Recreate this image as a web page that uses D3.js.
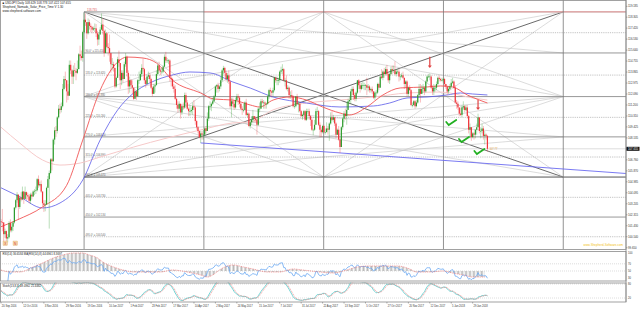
<!DOCTYPE html>
<html><head><meta charset="utf-8">
<script src="https://cdn.jsdelivr.net/npm/d3@7"></script>
<style>body{margin:0;background:#fff}svg{display:block;font-family:"Liberation Sans",Arial,sans-serif}</style>
</head><body><svg id="c" width="640" height="309"></svg>
<script>
// ---------- DATA ----------
const firstOpen = 101.80;
// daily closes, 20 Sep 2016 .. 13 Feb 2018
const closes = [
101.72,101.70,100.75,101.00,100.40,100.50,101.65,101.05,101.35,
101.70,102.90,103.50,103.95,102.95,103.70,103.55,104.20,103.60,104.15,103.90,103.80,103.45,103.95,103.80,104.20,104.25,104.30,105.20,104.70,104.80,
104.20,103.25,103.10,103.15,104.50,105.20,105.70,106.80,106.65,108.40,109.15,109.10,110.20,110.90,110.80,111.10,112.50,113.30,113.20,112.30,111.95,114.45,
114.00,113.50,114.00,113.95,113.80,114.10,115.30,115.15,115.00,117.10,118.10,117.90,117.00,117.90,117.60,117.50,117.30,117.40,117.40,117.00,116.50,116.90,
117.30,117.70,117.20,115.40,117.00,115.90,115.80,115.40,114.50,114.50,114.20,112.70,113.40,114.90,114.60,113.20,113.80,113.30,114.50,115.10,113.80,112.70,
113.20,112.80,112.60,111.70,112.30,111.90,113.20,113.20,113.70,114.20,114.10,113.20,112.90,113.50,113.60,113.30,112.60,112.10,112.70,112.80,
113.70,114.40,114.00,113.90,113.90,114.30,115.10,114.80,114.80,114.80,113.40,113.30,112.70,112.50,111.70,111.20,110.90,111.30,110.60,111.10,111.00,112.00,111.40,
110.90,110.70,110.70,110.80,111.10,111.00,109.90,109.40,109.10,108.60,108.90,108.80,108.80,109.30,109.10,110.10,111.10,111.10,111.30,111.50,
111.90,112.70,112.80,112.50,112.70,113.20,114.00,114.20,113.80,113.30,113.60,113.10,111.10,111.50,111.30,111.00,111.60,111.90,111.80,111.30,110.90,110.80,110.80,
111.40,110.40,110.50,109.50,109.80,110.00,110.30,110.10,110.00,109.60,110.90,110.90,111.50,111.40,111.40,111.30,111.30,111.90,112.40,112.30,112.20,112.40,
113.40,113.20,113.20,113.20,113.90,114.00,114.10,113.20,113.20,112.50,112.60,112.00,112.00,111.90,111.10,111.10,111.90,111.30,111.30,110.70,110.30,
110.40,110.70,110.00,110.70,110.70,110.30,110.00,109.20,109.20,109.60,110.70,110.70,109.60,109.20,109.00,109.50,109.00,109.00,109.30,109.20,109.70,110.20,110.00,
110.20,109.70,108.80,109.20,108.40,107.80,109.40,110.10,110.50,110.30,110.80,111.50,111.60,112.30,112.50,112.00,111.70,112.20,113.20,112.80,112.50,
112.80,112.80,112.80,112.80,112.60,112.70,112.40,112.50,112.30,111.80,112.20,112.20,112.90,112.60,113.50,113.40,113.90,113.70,114.10,113.70,113.20,113.70,
114.10,114.00,114.00,113.70,113.90,113.90,113.50,113.50,113.60,113.40,112.90,113.10,112.10,112.60,112.40,111.20,111.20,111.50,111.10,111.40,112.00,112.50,
112.10,112.50,112.60,112.30,113.10,113.50,113.50,113.50,112.60,112.30,112.60,112.60,112.90,113.40,113.30,113.20,113.20,113.30,112.90,112.70,
112.30,112.50,112.70,113.00,113.10,112.60,111.40,111.30,111.00,110.50,110.40,111.00,111.10,110.80,111.00,110.30,109.20,109.40,108.60,108.90,108.80,109.20,
109.40,110.20,109.10,109.10,109.30,108.70,108.80,108.70,107.655];
const highs = [
101.98,102.79,101.70,101.20,101.05,100.75,101.80,101.95,101.65,
101.80,102.95,103.60,104.15,103.95,103.85,104.15,104.60,104.25,104.60,104.20,104.10,104.00,104.10,104.10,104.30,104.40,104.60,105.30,105.50,105.00,
105.10,104.20,103.50,103.50,104.60,105.45,105.90,106.90,106.90,108.50,109.40,109.50,110.30,111.20,111.30,111.40,112.90,113.55,113.90,113.20,112.90,114.80,
114.80,114.10,114.40,114.60,114.20,114.80,115.40,116.00,115.60,117.20,118.66,118.60,117.80,118.20,118.10,117.80,117.60,117.55,117.80,117.75,117.20,117.10,
117.50,118.60,118.20,117.30,117.30,117.10,116.20,116.90,115.40,115.00,114.70,114.20,113.50,115.10,115.60,114.50,114.00,114.00,114.70,115.40,115.20,114.00,
113.50,113.30,113.20,112.60,112.50,112.40,113.30,113.90,114.00,114.50,114.95,114.20,113.40,113.60,113.90,113.80,113.40,112.70,112.90,112.90,
114.00,114.50,114.70,114.20,114.20,114.40,115.30,115.50,115.00,114.90,114.90,113.60,113.40,112.90,112.80,111.80,111.50,111.50,111.20,111.20,111.40,112.20,112.20,
111.60,111.00,111.20,111.00,111.40,111.60,111.10,110.00,109.50,109.10,109.10,109.10,109.20,109.40,109.50,110.60,111.20,111.50,111.40,111.80,
112.00,112.80,112.90,113.00,112.80,113.50,114.10,114.37,114.30,114.00,113.80,114.00,113.20,111.80,111.80,111.60,111.80,112.10,112.10,111.90,111.40,111.10,111.30,
111.50,111.70,110.60,110.60,110.00,110.30,110.80,110.30,110.30,110.20,111.00,111.40,111.70,111.70,111.60,111.50,111.40,112.00,112.50,112.60,112.40,112.60,
113.50,113.50,113.50,113.40,114.00,114.30,114.50,114.20,113.40,113.60,112.80,112.70,112.30,112.40,112.00,111.50,111.90,112.10,111.50,111.40,110.80,
110.50,110.80,110.80,110.90,110.90,110.90,110.40,110.10,109.30,110.00,110.90,111.05,110.80,109.80,109.40,109.60,109.60,109.30,109.80,109.50,109.80,110.60,110.70,
110.40,110.00,109.80,109.30,109.50,108.50,109.50,110.20,110.70,110.90,111.40,111.70,111.90,112.50,112.70,112.70,112.20,112.30,113.20,113.30,113.00,
113.00,113.10,113.00,112.90,113.40,112.90,112.80,112.60,112.70,112.30,112.30,112.40,113.00,113.00,113.60,114.10,114.00,114.20,114.30,114.45,113.80,113.80,
114.30,114.40,114.40,114.73,114.10,114.10,114.10,113.70,113.80,113.90,113.40,113.20,113.20,112.70,112.80,112.50,111.40,111.60,111.60,111.60,112.10,112.90,
112.90,112.80,112.90,112.70,113.20,113.60,113.70,113.75,113.60,112.80,112.90,112.80,113.10,113.50,113.60,113.40,113.40,113.40,113.40,112.90,
112.70,112.70,112.90,113.30,113.40,113.20,112.80,111.60,111.50,111.00,111.00,111.20,111.50,111.20,111.20,111.20,110.40,109.70,109.40,109.00,109.00,109.20,
109.70,110.50,110.20,109.40,109.70,109.50,109.10,108.90,108.778];
const lows = [
101.45,100.98,100.10,100.45,100.15,100.08,100.40,100.90,100.90,
101.00,101.60,102.75,103.30,101.90,102.80,103.40,103.50,103.20,103.60,103.50,103.55,103.25,103.20,103.55,103.75,103.90,104.00,104.20,104.50,104.60,
104.10,103.00,102.55,102.60,103.60,104.50,101.20,105.60,105.90,106.60,108.00,108.60,108.90,110.10,110.50,110.60,111.00,112.40,112.60,111.40,111.60,112.00,
113.70,112.90,112.90,113.50,113.20,113.70,114.10,114.80,114.80,114.70,117.00,117.60,116.55,116.90,117.30,117.10,117.00,117.20,117.10,116.70,116.00,116.05,
116.90,117.25,116.90,115.10,115.40,115.80,115.20,114.70,113.80,114.00,113.90,112.55,112.60,113.40,114.30,112.50,112.80,113.00,113.30,114.30,113.50,112.10,
112.20,112.50,112.10,111.60,111.80,111.60,112.00,112.90,113.20,113.50,113.90,112.90,112.60,112.90,113.30,113.00,112.50,111.90,112.10,112.20,
112.80,113.60,113.80,113.60,113.70,113.80,114.30,114.60,114.60,114.50,113.10,112.70,112.50,112.20,111.60,110.90,110.60,110.70,110.10,110.40,110.80,110.90,111.10,
110.80,110.30,110.30,110.50,110.40,110.80,109.60,109.20,108.90,108.50,108.13,108.40,108.40,108.70,108.90,109.60,109.90,110.80,110.70,111.20,
111.40,111.80,112.20,112.20,112.30,112.50,113.10,113.70,113.50,113.10,113.00,112.90,110.90,110.20,111.00,110.80,110.90,111.40,111.20,111.00,110.80,110.40,110.60,
110.80,110.30,110.20,109.40,109.30,109.60,109.80,109.80,109.80,108.80,109.50,110.60,110.90,111.30,110.90,110.90,110.90,111.20,111.70,111.90,111.80,111.90,
112.30,113.00,112.80,112.80,113.00,113.70,113.70,113.10,112.70,112.40,112.30,111.70,111.70,111.60,111.00,110.90,111.00,111.20,110.60,110.60,110.20,
110.00,110.20,109.90,109.90,110.50,110.00,109.50,109.10,108.75,109.10,109.60,110.40,109.50,108.60,108.60,108.90,108.90,108.80,109.00,108.80,108.30,109.60,109.90,
109.80,109.50,108.50,108.80,108.30,107.32,108.20,109.20,109.80,110.00,109.60,110.80,111.40,111.30,112.00,111.60,111.50,111.50,112.10,112.50,112.20,
112.40,112.50,112.40,112.40,112.00,112.30,112.20,112.20,112.10,111.70,111.60,111.90,112.10,112.40,112.60,113.30,113.20,113.40,113.60,113.60,113.00,112.90,
113.60,113.70,113.80,113.60,113.50,113.70,113.10,113.20,113.40,113.30,112.50,112.60,111.90,111.90,112.30,111.10,111.00,111.10,110.90,111.00,111.30,111.90,
111.40,112.20,112.20,112.00,112.20,113.00,113.40,113.20,112.50,112.00,112.00,112.30,112.40,112.80,113.10,113.10,113.10,113.00,112.70,112.50,
112.00,112.10,112.40,112.60,112.90,112.50,111.30,110.90,110.80,110.30,110.30,110.20,110.80,110.60,110.70,110.10,108.90,108.50,108.30,108.50,108.40,108.50,
108.80,109.40,108.90,108.50,108.90,108.40,108.00,108.40,107.422];

const dateLabels = ["20 Sep 2016","12 Oct 2016","3 Nov 2016","29 Nov 2016","19 Dec 2016","10 Jan 2017","1 Feb 2017","23 Feb 2017","17 Mar 2017","10 Apr 2017","2 May 2017","24 May 2017","15 Jun 2017","7 Jul 2017","31 Jul 2017","22 Aug 2017","13 Sep 2017","5 Oct 2017","27 Oct 2017","20 Nov 2017","12 Dec 2017","5 Jan 2018","29 Jan 2018"];
const dateLabelEvery = 16;
const priceTicks = [99.650,100.540,101.430,102.315,103.205,104.095,104.985,105.870,106.760,107.645,108.535,109.425,110.310,111.200,112.090,112.975,113.865,114.755,115.640,116.530,117.420,118.305,119.185];

// Gann price/time box
const gannLevels = [118.735,117.050,115.410,113.620,111.880,110.200,108.620,106.990,105.370,103.730,102.134,100.540];
const gannStartBar = 62, gannUnitBars = 89.4;
const gannFans = [ // [t1,k1,t2,k2,dark]
 [0,0,4,8,1],[0,8,4,0,1],
 [0,0,4,4,0],[0,8,4,4,0],[0,4,4,0,0],[0,4,4,8,0],
 [2,0,0,8,0],[2,0,4,8,0],[2,8,0,0,0],[2,8,4,0,0],
 [2,0,0,4,0],[2,0,4,4,0],[2,8,0,4,0],[2,8,4,4,0],
 [0,4,4,6,0],[4,4,0,6,0],
 [0,8,4,6,0],[0,0,4,2,0]];

// moving averages: [bar, price]
const maRed = [[0,101.35],[12,101.9],[31,102.95],[49,104.7],[61,108.36],[74,112.4],[87,114.67],[94,115.08],[106,115.0],[116,114.6],[128,113.2],[149,112.17],[159,111.68],[173,111.6],[186,111.2],[193,111.04],[203,111.6],[216,111.85],[228,111.6],[240,111.04],[253,110.55],[260,110.39],[273,111.04],[285,112.01],[298,112.58],[318,112.66],[328,112.74],[337,112.66],[348,112.01],[357,111.6],[363,111.36]];
const maBlue = [[0,104.5],[14,103.77],[31,102.87],[44,103.27],[61,105.13],[74,108.37],[87,110.79],[99,112.17],[111,112.98],[128,113.63],[141,113.87],[156,113.79],[173,113.06],[186,112.57],[203,111.85],[228,111.36],[253,111.04],[278,111.12],[290,111.36],[303,111.77],[318,111.85],[333,112.01],[343,112.17],[352,112.09],[363,112.01]];
const maPink = [[0,109.4],[14,108.12],[31,106.75],[44,106.34],[59,106.5],[74,106.99],[99,107.8],[124,108.53],[149,109.18],[173,109.75],[186,109.83],[203,110.8],[228,111.36],[253,111.6],[278,111.85],[303,112.17],[328,112.25],[352,111.77],[363,111.6]];
// trend line through two lows
const trendPts = [[149,108.13],[253,107.32]];
// RSI signal (red dotted)
const rsiSig = [[0,52.8],[7,47.2],[14,47.2],[24,61.1],[31,72.2],[39,86.1],[46,94.4],[54,100],[61,100],[66,94.4],[72,86.1],[76,75],[84,61.1],[91,52.8],[99,47.2],[109,47.2],[119,47.2],[128,52.8],[139,47.2],[149,38.9],[154,33.3],[158,38.9],[163,52.8],[169,63.9],[173,66.7],[181,61.1],[188,55.6],[199,47.2],[208,47.2],[218,55.6],[225,52.8],[238,47.2],[248,44.4],[258,52.8],[266,61.1],[275,63.9],[285,63.9],[296,63.9],[305,55.6],[310,47.2],[320,47.2],[330,50],[337,44.4],[345,38.9],[352,33.3],[361,33.3]];
// annotations
const downArrows = [[320,115.1,114.2],[356,111.6,110.8]];
const checks = [[336,109.74],[345.5,108.37],[357,107.4]];

// ---------- LAYOUT ----------
const svg = d3.select("#c");
const W = 640, plotR = 626;
const mainT = 0, mainB = 249.5, rsiT = 251, rsiB = 281, stT = 282.5, stB = 302;
const X0 = 1, STEP = 1.34;
const x = d3.scaleLinear().domain([0,1]).range([X0, X0+STEP]);
const y = d3.scaleLinear().domain([99.65,119.185]).range([247.75,6.3]);
const yR = d3.scaleLinear().domain([0,100]).range([289,253]);
const yS = d3.scaleLinear().domain([0,100]).range([302.7,279.3]);

const defs = svg.append("defs");
function clip(id,x0,y0,w,h){defs.append("clipPath").attr("id",id).append("rect").attr("x",x0).attr("y",y0).attr("width",w).attr("height",h);}
clip("cm",0,mainT,plotR,mainB-mainT);
clip("cr",0,rsiT,plotR,rsiB-rsiT);
clip("cs",0,stT,plotR,stB-stT);
const pat = defs.append("pattern").attr("id","hist").attr("patternUnits","userSpaceOnUse").attr("width",STEP).attr("height",4);
pat.append("rect").attr("x",0).attr("y",0).attr("width",0.6).attr("height",4).attr("fill","#b0b0b0");

svg.append("rect").attr("width",W).attr("height",309).attr("fill","#fff");

const N = Math.min(closes.length, highs.length, lows.length);
const bars = d3.range(N).map(i=>{const o=i===0?firstOpen:closes[i-1], c=closes[i];
  return {i,o,c,h:Math.max(highs[i],o,c),l:Math.min(lows[i],o,c)};});

// ---------- MAIN PANEL ----------
const gm = svg.append("g").attr("clip-path","url(#cm)");
const tx = t => x(gannStartBar + t*gannUnitBars);
const ky = k => y(gannLevels[k]);

// current price line
gm.append("line").attr("x1",0).attr("x2",plotR).attr("y1",y(closes[N-1])).attr("y2",y(closes[N-1])).attr("stroke","#cfcfcf").attr("stroke-width",0.7);

// fan lines
gm.selectAll("line.fan").data(gannFans).join("line").attr("class","fan")
  .attr("x1",d=>tx(d[0])).attr("y1",d=>ky(d[1])).attr("x2",d=>tx(d[2])).attr("y2",d=>ky(d[3]))
  .attr("stroke",d=>d[4]?"#6a6a6a":"#c4c4c4").attr("stroke-width",d=>d[4]?1:0.6);

// horizontal levels
gm.selectAll("line.lvl").data(gannLevels).join("line").attr("class","lvl")
  .attr("x1",tx(0)).attr("x2",plotR).attr("y1",(d)=>y(d)).attr("y2",d=>y(d))
  .attr("stroke",(d,k)=>k===8?"#555":(k%2?"#9a9a9a":"#8c8c8c"))
  .attr("stroke-width",(d,k)=>k%2?0.6:(k===8?1:0.9))
  .attr("stroke-dasharray",(d,k)=>k%2?"1.2,1":null);
// red high line
gm.append("line").attr("x1",tx(1)).attr("x2",plotR).attr("y1",ky(0)).attr("y2",ky(0)).attr("stroke","#f4a0a0").attr("stroke-width",1);

// verticals
gm.selectAll("line.vt").data(d3.range(5)).join("line").attr("class","vt")
  .attr("x1",t=>tx(t)).attr("x2",t=>tx(t)).attr("y1",t=>t===0?ky(0):mainT).attr("y2",mainB)
  .attr("stroke","#777").attr("stroke-width",0.8);

// level labels
gm.selectAll("text.lvl").data(gannLevels.slice(2)).join("text").attr("class","lvl")
  .attr("x",tx(0)+1.5).attr("y",d=>y(d)-0.6).attr("font-size",2.6).attr("fill","#666")
  .text((d,j)=>`${((j+2)*45).toFixed(1)}° = ${d.toFixed(3)}`);
gm.append("text").attr("x",tx(0)+3).attr("y",ky(0)-1).attr("font-size",2.8).attr("fill","#e05050").text(gannLevels[0].toFixed(3));

// moving averages
const ln = d3.line().x(d=>x(d[0])).y(d=>y(d[1])).curve(d3.curveMonotoneX);
gm.append("path").attr("d",ln(maPink)).attr("fill","none").attr("stroke","#f6c9c9").attr("stroke-width",1);
gm.append("path").attr("d",ln(maBlue)).attr("fill","none").attr("stroke","#5a5ae8").attr("stroke-width",0.8);
gm.append("path").attr("d",ln(maRed)).attr("fill","none").attr("stroke","#f05555").attr("stroke-width",0.9);

// trend line
const tSlope = (trendPts[1][1]-trendPts[0][1])/(trendPts[1][0]-trendPts[0][0]);
const tEnd = x.invert(plotR);
gm.append("line").attr("x1",x(trendPts[0][0])).attr("y1",y(trendPts[0][1]))
  .attr("x2",plotR).attr("y2",y(trendPts[0][1]+tSlope*(tEnd-trendPts[0][0])))
  .attr("stroke","#6b6bf0").attr("stroke-width",0.9);

// candles
const up="#2e9c2e", dn="#f0333a";
const cg = gm.append("g");
cg.selectAll("line.w").data(bars).join("line").attr("class","w")
  .attr("x1",d=>x(d.i)).attr("x2",d=>x(d.i)).attr("y1",d=>y(d.h)).attr("y2",d=>y(d.l))
  .attr("stroke",d=>d.c>=d.o?up:dn).attr("stroke-opacity",0.55).attr("stroke-width",0.6);
cg.selectAll("rect").data(bars).join("rect")
  .attr("x",d=>x(d.i)-0.6).attr("width",1.2)
  .attr("y",d=>y(Math.max(d.o,d.c))).attr("height",d=>Math.max(0.6,Math.abs(y(d.o)-y(d.c))))
  .attr("fill",d=>d.c>=d.o?up:dn);

// annotations
downArrows.forEach(a=>{
  const ax=x(a[0]), y1=y(a[1]), y2=y(a[2]);
  gm.append("line").attr("x1",ax).attr("x2",ax).attr("y1",y1).attr("y2",y2-2).attr("stroke","#e04040").attr("stroke-width",1.2);
  gm.append("path").attr("d",`M${ax-2},${y2-2.5}L${ax+2},${y2-2.5}L${ax},${y2}Z`).attr("fill","#e04040");
});
checks.forEach(c=>{
  const cx=x(c[0]), cy=y(c[1]);
  gm.append("path").attr("d",`M${cx-5},${cy-1}L${cx-2.5},${cy+2}L${cx+5},${cy-3}`).attr("fill","none")
    .attr("stroke","#22b022").attr("stroke-width",1.8).attr("stroke-linecap","round");
});
gm.append("text").attr("x",x(N-1)+2).attr("y",y(closes[N-1])+1.5).attr("font-size",2.6).attr("fill","#e0a040").text("107.77");

// title
const title = ["■ USDJPY,Daily  108.629 108.778 107.422 107.655","Shepherd_Nomads_Solar_Price_Time V 1.30","www.shepherd-software.com"];
svg.selectAll("text.tt").data(title).join("text").attr("class","tt").attr("x",2.5).attr("y",(d,i)=>4+i*4.2)
  .attr("font-size",3).attr("fill","#222").text(d=>d);
svg.append("text").attr("x",plotR-3).attr("y",246).attr("text-anchor","end").attr("font-size",3).attr("fill","#f2c21a").text("www.Shepherd-Software.com");
// X / N boxes
[["X",3],["N",13]].forEach(b=>{
  svg.append("rect").attr("x",b[1]).attr("y",241).attr("width",4.5).attr("height",4.5).attr("fill","#f6d7a8").attr("stroke","#d9a060").attr("stroke-width",0.3);
  svg.append("text").attr("x",b[1]+2.25).attr("y",244.8).attr("text-anchor","middle").attr("font-size",3.2).attr("fill","#d04040").text(b[0]);
});

// ---------- RSI PANEL ----------
function rsiCalc(cl,n){const out=[];let ag=0,al=0;
  for(let i=0;i<cl.length;i++){ if(i===0){out.push(null);continue;}
    const d=cl[i]-cl[i-1], g=Math.max(d,0), l=Math.max(-d,0);
    if(i<=n){ag=(ag*(i-1)+g)/i; al=(al*(i-1)+l)/i;} else {ag=(ag*(n-1)+g)/n; al=(al*(n-1)+l)/n;}
    out.push(al===0?100:100-100/(1+ag/al)); }
  return out;}
const rsi = rsiCalc(closes.slice(0,N),14);
const gr = svg.append("g").attr("clip-path","url(#cr)");
gr.append("path").attr("d",d3.area().x(d=>x(d[0])).y0(yR(50)).y1(d=>yR(d[1])).curve(d3.curveMonotoneX)(rsiSig)).attr("fill","url(#hist)");
[70,50].forEach(v=>gr.append("line").attr("x1",0).attr("x2",plotR).attr("y1",yR(v)).attr("y2",yR(v)).attr("stroke","#bbb").attr("stroke-width",0.5).attr("stroke-dasharray","1,1"));
gr.append("path").attr("d",d3.line().defined(d=>d!==null).x((d,i)=>x(i)).y(d=>yR(d))(rsi)).attr("fill","none").attr("stroke","#6aa8f2").attr("stroke-width",0.8);
gr.append("path").attr("d",d3.line().x(d=>x(d[0])).y(d=>yR(d[1])).curve(d3.curveMonotoneX)(rsiSig)).attr("fill","none").attr("stroke","#f07878").attr("stroke-width",0.7).attr("stroke-dasharray","1,0.8");
svg.append("text").attr("x",2.5).attr("y",rsiT+4).attr("font-size",2.8).attr("fill","#222").text("RSI(14) 36.6584  MA(RSI(14),8) 44.6961  8.3697");

// ---------- STOCH PANEL ----------
const kRaw = bars.map((b,i)=>{const s=Math.max(0,i-12); const hh=d3.max(bars.slice(s,i+1),d=>d.h), ll=d3.min(bars.slice(s,i+1),d=>d.l); return hh===ll?50:(b.c-ll)/(hh-ll)*100;});
const sma=(a,n)=>a.map((v,i)=>d3.mean(a.slice(Math.max(0,i-n+1),i+1)));
const kS = sma(kRaw,8), dS = sma(kS,3);
const gs = svg.append("g").attr("clip-path","url(#cs)");
[80,20].forEach(v=>gs.append("line").attr("x1",0).attr("x2",plotR).attr("y1",yS(v)).attr("y2",yS(v)).attr("stroke","#bbb").attr("stroke-width",0.5).attr("stroke-dasharray","1,1"));
gs.append("path").attr("d",d3.line().x((d,i)=>x(i)).y(d=>yS(d)).curve(d3.curveMonotoneX)(kS)).attr("fill","none").attr("stroke","#4cc9c9").attr("stroke-width",0.8);
gs.append("path").attr("d",d3.line().x((d,i)=>x(i)).y(d=>yS(d)).curve(d3.curveMonotoneX)(dS)).attr("fill","none").attr("stroke","#f07878").attr("stroke-width",0.7).attr("stroke-dasharray","1,0.8");
svg.append("text").attr("x",2.5).attr("y",stT+4).attr("font-size",2.8).attr("fill","#222").text("Stoch(13,8,3) 49.4962 21.4462");

// ---------- FRAMES & AXES ----------
[[mainT,mainB],[rsiT,rsiB],[stT,stB]].forEach(p=>svg.append("rect").attr("x",0.5).attr("y",p[0]+0.5).attr("width",plotR-0.5).attr("height",p[1]-p[0]-0.5).attr("fill","none").attr("stroke","#8a8a8a").attr("stroke-width",0.8));
svg.append("line").attr("x1",plotR).attr("x2",plotR).attr("y1",0).attr("y2",stB).attr("stroke","#8a8a8a").attr("stroke-width",0.8);

const ax = svg.append("g");
priceTicks.forEach(p=>{
  ax.append("line").attr("x1",plotR).attr("x2",plotR+1.5).attr("y1",y(p)).attr("y2",y(p)).attr("stroke","#666").attr("stroke-width",0.5);
  ax.append("text").attr("x",plotR+2).attr("y",y(p)+1).attr("font-size",2.8).attr("fill","#333").text(p.toFixed(3));
});
const cy = y(closes[N-1]);
ax.append("rect").attr("x",plotR+0.5).attr("y",cy-2).attr("width",13).attr("height",4).attr("fill","#111");
ax.append("text").attr("x",plotR+2).attr("y",cy+1).attr("font-size",2.8).attr("fill","#fff").text(closes[N-1].toFixed(3));
[100,70,50,30].forEach(v=>ax.append("text").attr("x",plotR+2).attr("y",yR(v)+1).attr("font-size",2.6).attr("fill","#333").text(v));
[80,20].forEach(v=>ax.append("text").attr("x",plotR+2).attr("y",yS(v)+1).attr("font-size",2.6).attr("fill","#333").text(v));

dateLabels.forEach((s,k)=>{
  const xx = x(k*dateLabelEvery);
  ax.append("line").attr("x1",xx).attr("x2",xx).attr("y1",stB).attr("y2",stB+1.5).attr("stroke","#666").attr("stroke-width",0.5);
  ax.append("text").attr("x",xx+0.8).attr("y",307).attr("font-size",2.6).attr("fill","#333").text(s);
});
</script></body></html>
